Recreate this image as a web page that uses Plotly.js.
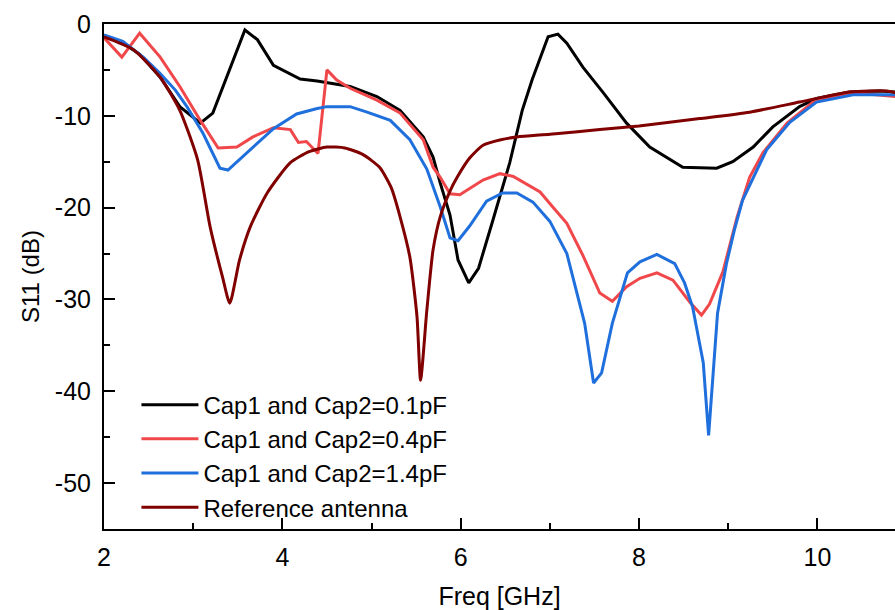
<!DOCTYPE html>
<html>
<head>
<meta charset="utf-8">
<script src="https://cdn.plot.ly/plotly-3.0.1.min.js"></script>
<style>html,body{margin:0;padding:0;background:#fff;}</style>
</head>
<body>
<div id="chart" style="width:895px;height:610px;"></div>
<script>
// Cap1 and Cap2 = 0.1 pF
const freq01 = [2.0, 2.2, 2.4, 2.63, 2.85, 3.08, 3.22, 3.41, 3.58, 3.72, 3.9, 4.2, 4.39, 4.76, 5.06, 5.32, 5.58, 5.69, 5.77, 5.88, 5.97, 6.09, 6.2, 6.36, 6.55, 6.69, 6.8, 6.98, 7.09, 7.19, 7.37, 7.6, 7.86, 8.12, 8.49, 8.87, 9.05, 9.28, 9.5, 9.8, 9.99, 10.36, 10.7, 10.88];
const s11_01 = [-1.3, -2.0, -3.3, -5.8, -9.0, -10.8, -9.7, -5.0, -0.65, -1.7, -4.5, -6.0, -6.2, -6.8, -7.9, -9.4, -12.3, -14.5, -17.3, -20.8, -25.7, -28.2, -26.6, -21.4, -15.1, -9.4, -6.1, -1.4, -1.1, -2.1, -4.7, -7.5, -10.8, -13.4, -15.6, -15.7, -15.0, -13.4, -11.2, -9.0, -8.1, -7.4, -7.3, -7.4];

// Cap1 and Cap2 = 0.4 pF
const freq04 = [2.0, 2.2, 2.4, 2.63, 2.85, 3.08, 3.28, 3.49, 3.67, 3.9, 4.09, 4.18, 4.27, 4.4, 4.5, 4.61, 4.76, 5.06, 5.32, 5.58, 5.69, 5.77, 5.88, 5.99, 6.25, 6.44, 6.59, 6.89, 7.03, 7.19, 7.37, 7.56, 7.7, 7.86, 8.01, 8.2, 8.38, 8.57, 8.7, 8.79, 8.94, 9.1, 9.24, 9.39, 9.66, 9.95, 10.4, 10.67, 10.88];
const s11_04 = [-1.5, -3.6, -1.0, -3.6, -6.8, -10.5, -13.5, -13.4, -12.3, -11.3, -11.5, -12.9, -12.8, -14.1, -5.0, -6.1, -7.0, -8.3, -9.7, -12.6, -15.6, -16.7, -18.5, -18.6, -17.0, -16.3, -16.6, -18.3, -19.9, -21.7, -25.2, -29.3, -30.2, -28.6, -27.7, -27.1, -27.9, -30.3, -31.7, -30.5, -27.0, -21.0, -16.7, -14.0, -10.8, -8.5, -7.5, -7.7, -7.9];

// Cap1 and Cap2 = 1.4 pF
const freq14 = [2.0, 2.21, 2.44, 2.63, 2.8, 2.93, 3.11, 3.3, 3.39, 3.64, 3.9, 4.16, 4.39, 4.5, 4.76, 4.95, 5.21, 5.43, 5.62, 5.77, 5.88, 5.97, 6.1, 6.29, 6.47, 6.63, 6.81, 7.0, 7.19, 7.39, 7.49, 7.58, 7.7, 7.87, 8.01, 8.2, 8.4, 8.51, 8.6, 8.72, 8.78, 8.88, 8.98, 9.07, 9.16, 9.43, 9.69, 9.99, 10.4, 10.88];
const s11_14 = [-1.2, -1.9, -3.6, -5.4, -7.2, -9.0, -11.9, -15.7, -15.9, -13.7, -11.4, -9.8, -9.2, -9.0, -9.0, -9.6, -10.5, -12.6, -15.8, -19.9, -23.3, -23.6, -22.0, -19.3, -18.4, -18.4, -19.4, -21.5, -25.0, -32.6, -39.1, -38.0, -32.6, -27.1, -25.9, -25.1, -26.1, -28.2, -30.8, -36.9, -44.8, -31.5, -26.1, -22.4, -19.2, -13.7, -10.7, -8.5, -7.7, -7.7];

// Reference antenna
const freqRef = [2.0, 2.33, 2.63, 2.85, 3.05, 3.19, 3.33, 3.41, 3.52, 3.64, 3.83, 4.09, 4.3, 4.5, 4.7, 4.9, 5.09, 5.22, 5.32, 5.43, 5.51, 5.55, 5.62, 5.69, 5.77, 5.88, 5.96, 6.1, 6.25, 6.45, 6.63, 7.0, 7.56, 8.0, 8.68, 9.24, 9.8, 10.36, 10.78, 10.88];
const s11Ref = [-1.4, -2.8, -5.8, -9.4, -14.8, -22.1, -27.6, -30.4, -25.7, -22.1, -18.4, -15.1, -13.9, -13.4, -13.5, -14.2, -15.6, -17.8, -21.0, -25.4, -31.9, -38.8, -31.2, -24.6, -21.0, -18.2, -16.7, -14.6, -13.2, -12.6, -12.3, -12.0, -11.5, -11.1, -10.3, -9.6, -8.5, -7.4, -7.3, -7.5];

const seriesNames = ["Cap1 and Cap2=0.1pF", "Cap1 and Cap2=0.4pF", "Cap1 and Cap2=1.4pF", "Reference antenna"];
const seriesColors = ["#000000", "#f0474a", "#1f6fdc", "#800000"];
const xTickVals = [2, 4, 6, 8, 10];
const yTickVals = [0, -10, -20, -30, -40, -50];

const xs = [freq01, freq04, freq14, freqRef];
const ys = [s11_01, s11_04, s11_14, s11Ref];

const traces = xs.map((x, i) => ({
  x: x, y: ys[i], type: "scatter", mode: "lines",
  name: seriesNames[i],
  line: i === 3 ? {color: seriesColors[i], width: 3, shape: "spline", smoothing: 0.6}
                : {color: seriesColors[i], width: 3}
}));

const fontFam = "Liberation Sans, Arial, sans-serif";
const layout = {
  width: 895, height: 610,
  margin: {l: 104, r: 0, t: 24, b: 81, pad: 0},
  paper_bgcolor: "#fff", plot_bgcolor: "#fff",
  font: {family: fontFam, size: 24, color: "#000"},
  showlegend: true,
  legend: {
    x: 0.041, y: 0.29, xanchor: "left", yanchor: "top",
    bgcolor: "rgba(0,0,0,0)", borderwidth: 0,
    font: {family: fontFam, size: 24, color: "#000"},
    tracegroupgap: 0, itemwidth: 57
  },
  xaxis: {
    range: [2, 10.87], showgrid: false, zeroline: false,
    showline: true, linecolor: "#000", linewidth: 2, mirror: true,
    ticks: "inside", ticklen: 11, tickwidth: 2, tickcolor: "#000",
    tickvals: xTickVals, ticktext: xTickVals.map(String),
    ticklabelstandoff: 5,
    minor: {dtick: 1, ticks: "inside", ticklen: 6, tickwidth: 2, tickcolor: "#000", showgrid: false},
    tickfont: {family: fontFam, size: 25, color: "#000"},
    title: {text: "Freq [GHz]", font: {family: fontFam, size: 25, color: "#000"}, standoff: 18}
  },
  yaxis: {
    range: [-55, 0], showgrid: false, zeroline: false,
    showline: true, linecolor: "#000", linewidth: 2,
    ticks: "inside", ticklen: 11, tickwidth: 2, tickcolor: "#000",
    tickvals: yTickVals, ticktext: yTickVals.map(String),
    ticklabelstandoff: 6,
    minor: {dtick: 5, ticks: "inside", ticklen: 6, tickwidth: 2, tickcolor: "#000", showgrid: false},
    tickfont: {family: fontFam, size: 25, color: "#000"},
    title: {text: "S11 (dB)", font: {family: fontFam, size: 24, color: "#000"}, standoff: 8}
  }
};

Plotly.newPlot("chart", traces, layout, {displayModeBar: false, staticPlot: true});
</script>
</body>
</html>
